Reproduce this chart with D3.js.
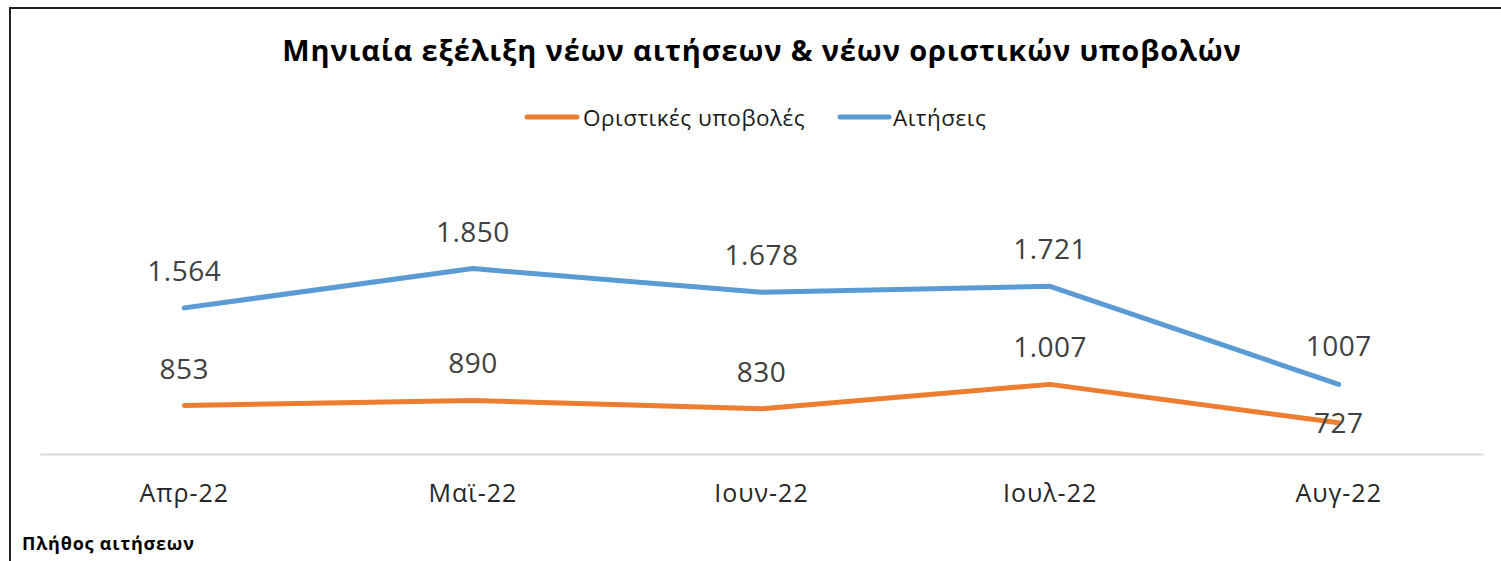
<!DOCTYPE html>
<html><head><meta charset="utf-8">
<script src="https://cdn.jsdelivr.net/npm/d3@7"></script>
<style>
html,body{margin:0;padding:0;background:#fff;}
svg{display:block;font-family:"Open Sans",sans-serif;}
</style></head>
<body><svg id="c" width="1501" height="561"></svg>
<script>
const categories = ["Απρ-22","Μαϊ-22","Ιουν-22","Ιουλ-22","Αυγ-22"];
const submissions = [853, 890, 830, 1007, 727];
const applications = [1564, 1850, 1678, 1721, 1007];
const submissionLabels = ["853","890","830","1.007","727"];
const applicationLabels = ["1.564","1.850","1.678","1.721","1007"];
const seriesNames = ["Οριστικές υποβολές","Αιτήσεις"];
const titleText = "Μηνιαία εξέλιξη νέων αιτήσεων & νέων οριστικών υποβολών";
const footerText = "Πλήθος αιτήσεων";

const svg = d3.select("#c");
const W = 1501, H = 561;
const ORANGE = "#ED7D31", BLUE = "#5B9BD5";

// border
svg.append("line").attr("x1",10).attr("x2",10).attr("y1",7).attr("y2",H).attr("stroke","#222").attr("stroke-width",2);
svg.append("line").attr("x1",9).attr("x2",W).attr("y1",8).attr("y2",8).attr("stroke","#222").attr("stroke-width",2);

const x = d3.scaleBand().domain(categories).range([40,1483]);
const y = d3.scaleLinear().domain([500,2000]).range([454,248]);

// title
svg.append("text").attr("x",762).attr("y",61).attr("text-anchor","middle")
  .attr("font-size",29).attr("letter-spacing",0.85).attr("font-weight","bold").attr("fill","#000").text(titleText);

// legend
const legend = [
  {name:seriesNames[0], color:ORANGE, x1:527, x2:577, tx:583},
  {name:seriesNames[1], color:BLUE, x1:840, x2:889, tx:893}
];
legend.forEach(l=>{
  svg.append("line").attr("x1",l.x1).attr("x2",l.x2).attr("y1",117).attr("y2",117)
    .attr("stroke",l.color).attr("stroke-width",5).attr("stroke-linecap","round");
  svg.append("text").attr("x",l.tx).attr("y",126).attr("font-size",22.5).attr("letter-spacing",0.5)
    .attr("fill","#1a1a1a").text(l.name);
});

// x axis
const xAxis = d3.axisBottom(x).tickSize(0).tickPadding(0);
const ax = svg.append("g").attr("transform","translate(0,454)").call(xAxis);
ax.select(".domain").attr("stroke","#d9d9d9").attr("stroke-width",2);
ax.selectAll(".tick text").attr("font-size",25).attr("letter-spacing",1).attr("fill","#262626")
  .attr("font-family","'Open Sans',sans-serif").attr("dy",0).attr("y",48);

const cx = d => x(d) + x.bandwidth()/2;
const line = d3.line().x((d,i)=>cx(categories[i])).y(d=>y(d));

const series = [
  {vals:submissions, labels:submissionLabels, color:ORANGE, offsets:[-27,-27,-27,-27,10]},
  {vals:applications, labels:applicationLabels, color:BLUE, offsets:[-27,-27,-27,-27,-28]}
];
series.forEach(s=>{
  svg.append("path").datum(s.vals).attr("d",line).attr("fill","none")
    .attr("stroke",s.color).attr("stroke-width",5).attr("stroke-linecap","round").attr("stroke-linejoin","round");
});
series.forEach(s=>{
  svg.append("g").selectAll("text").data(s.vals).join("text")
    .attr("x",(d,i)=>cx(categories[i])).attr("y",(d,i)=>y(d)+s.offsets[i])
    .attr("text-anchor","middle").attr("font-size",28).attr("letter-spacing",0.5).attr("fill","#404040")
    .text((d,i)=>s.labels[i]);
});

// footer
svg.append("text").attr("x",22).attr("y",550).attr("font-size",18).attr("letter-spacing",0.8)
  .attr("font-weight","bold").attr("fill","#000").text(footerText);
</script></body></html>
